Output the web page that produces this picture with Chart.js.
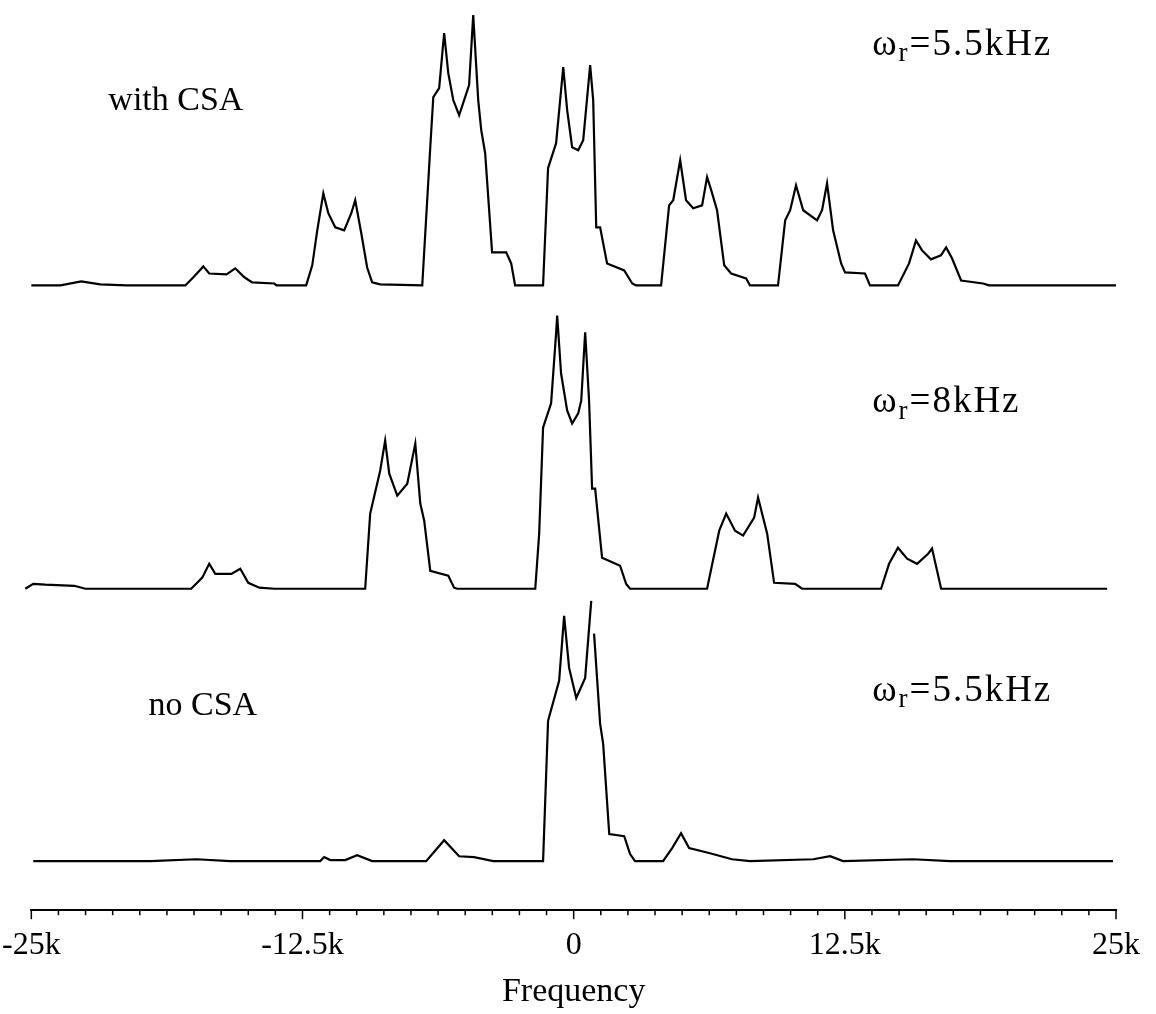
<!DOCTYPE html>
<html>
<head>
<meta charset="utf-8">
<title>MAS spectra</title>
<script src="https://cdn.jsdelivr.net/npm/chart.js@4/dist/chart.umd.min.js"></script>
<style>
    html, body { margin: 0; padding: 0; background: #fff; }
    #chart { display: block; }
</style>
</head>
<body>
<canvas id="chart" width="1156" height="1014"></canvas>
<script>
// frequency in kHz, intensity in arbitrary units (tallest top peak ~100)
var topFreq = [-25, -23.66, -22.7, -21.82, -20.62, -17.9, -17.53, -17.07, -16.8, -16.0, -15.6, -15.18, -14.82, -13.8, -13.7,
    -12.33, -12.05, -11.82, -11.54, -11.31, -10.99, -10.58, -10.25, -10.07, -9.79, -9.52, -9.29, -8.92,
    -6.98, -6.61, -6.47, -6.2, -5.97, -5.78, -5.55, -5.28, -4.82, -4.63, -4.4, -4.26, -4.08, -3.76, -3.11, -2.88, -2.7,
    -1.41, -1.18, -0.81, -0.48, -0.3, -0.07, 0.21, 0.44, 0.76, 0.9, 1.04, 1.22, 1.54, 2.33, 2.7, 2.88,
    4.03, 4.4, 4.59, 4.91, 5.18, 5.51, 5.92, 6.15, 6.34, 6.61, 6.94, 7.26, 7.95, 8.13,
    9.42, 9.75, 9.98, 10.25, 10.58, 11.22, 11.45, 11.68, 11.96, 12.33, 12.51, 13.43, 13.66,
    14.95, 15.46, 15.78, 16.06, 16.47, 16.93, 17.17, 17.44, 17.86, 18.87, 19.15, 25];
var topIntensity = [0, 0, 1.5, 0.4, 0, 0, 3.0, 7.0, 4.4, 4.1, 6.3, 3.0, 1.1, 0.7, 0,
    0, 7.4, 20.3, 33.9, 26.6, 21.4, 20.3, 26.6, 31.4, 19.2, 6.6, 1.1, 0.4,
    0, 50.9, 69.4, 72.7, 93.0, 78.2, 68.3, 62.7, 73.8, 99.6, 68.3, 57.2, 48.7, 12.2, 12.2, 8.1, 0,
    0, 43.2, 52.4, 80.4, 64.6, 50.9, 49.8, 53.5, 81.2, 68.3, 21.4, 21.4, 8.1, 5.5, 0.7, 0,
    0, 29.5, 31.4, 46.1, 31.4, 28.4, 29.5, 39.9, 35.1, 27.7, 7.4, 4.4, 2.6, 0,
    0, 24.0, 27.7, 36.9, 27.7, 24.0, 27.7, 37.6, 20.3, 8.1, 4.8, 4.4, 0,
    0, 8.1, 16.6, 12.9, 9.6, 11.1, 14.0, 10.0, 1.8, 0.7, 0, 0];

var midFreq = [-25.28, -24.91, -24.36, -23.02, -22.51, -17.63, -17.12, -16.8, -16.52, -15.78, -15.37, -15.0, -14.49, -13.8,
    -9.61, -9.38, -8.92, -8.69, -8.5, -8.13, -7.67, -7.3, -7.07, -6.89, -6.61, -5.78, -5.51, -5.37,
    -1.77, -1.59, -1.41, -1.04, -0.81, -0.76, -0.58, -0.3, -0.07, 0.21, 0.35, 0.53, 0.71, 0.85, 0.99, 1.31, 2.14, 2.42, 2.6,
    6.15, 6.71, 7.03, 7.44, 7.81, 8.32, 8.5, 8.92, 9.24, 10.21, 10.53,
    14.17, 14.54, 14.95, 15.37, 15.83, 16.34, 16.52, 16.94, 24.59];
var midIntensity = [0, 1.8, 1.5, 1.1, 0, 0, 4.1, 9.2, 5.5, 5.5, 7.4, 2.2, 0.4, 0,
    0, 27.7, 43.5, 54.6, 42.4, 34.3, 38.7, 53.5, 31.4, 25.1, 6.6, 4.8, 0.4, 0,
    0, 20.3, 59.4, 68.3, 94.1, 100.7, 79.3, 65.7, 60.9, 64.6, 69.4, 94.5, 69.4, 36.9, 36.9, 11.4, 8.5, 1.8, 0,
    0, 21.4, 27.7, 21.4, 19.6, 26.2, 33.6, 20.3, 2.2, 1.8, 0,
    0, 9.2, 15.1, 11.1, 9.2, 12.9, 14.8, 0, 0];

var lowFreq = [-24.91, -19.52, -17.4, -15.83, -11.68, -11.5, -11.22, -10.53, -9.98, -9.29,
    -6.8, -5.97, -5.28, -4.59, -3.71,
    -1.41, -1.18, -0.67, -0.44, -0.21, 0.12, 0.53, 0.81, 0.87, 0.94, 1.22, 1.36, 1.64, 2.33, 2.6, 2.83,
    4.12, 4.54, 4.95, 5.32, 6.24, 7.3, 8.13, 11.04, 11.82, 12.42, 15.64, 17.35, 24.86];
var lowIntensity = [0, 0, 0.7, 0, 0, 1.5, 0.4, 0.4, 2.2, 0,
    0, 7.7, 1.8, 1.5, 0,
    0, 51.7, 66.4, 90.4, 71.2, 60.1, 67.5, 95.9, null, 83.8, 50.6, 43.2, 10.0, 9.2, 2.6, 0,
    0, 4.8, 10.3, 4.8, 3.0, 0.7, 0, 0.7, 1.8, 0, 0.7, 0, 0];

var majorTicks = [-25, -12.5, 0, 12.5, 25];
var tickLabels = ['-25k', '-12.5k', '0', '12.5k', '25k'];

var toPoints = function (freq, intensity) {
    var pts = [];
    for (var i = 0; i < freq.length; i++) {
        pts.push({ x: freq[i], y: intensity[i] });
    }
    return pts;
};

var trace = function (freq, intensity, axis) {
    return {
        data: toPoints(freq, intensity),
        yAxisID: axis,
        borderColor: '#000',
        borderWidth: 2.2,
        pointRadius: 0,
        tension: 0,
        fill: false,
        spanGaps: false,
        clip: false
    };
};

var serif = '"Liberation Serif", "DejaVu Serif", serif';

// labels inside the plot, placed in data coordinates
var notes = [
    { text: 'with CSA', x: -21.45, y: 68, axis: 'yTop' },
    { text: 'no CSA', x: -19.6, y: 57, axis: 'yLow' },
    { omega: '=5.5kHz', x: 13.76, y: 88.6, axis: 'yTop' },
    { omega: '=8kHz', x: 13.76, y: 68.6, axis: 'yMid' },
    { omega: '=5.5kHz', x: 13.76, y: 62.7, axis: 'yLow' }
];

var notePlugin = {
    id: 'notes',
    afterDatasetsDraw: function (chart) {
        var ctx = chart.ctx;
        ctx.save();
        ctx.fillStyle = '#000';
        ctx.textBaseline = 'middle';
        ctx.textAlign = 'left';
        notes.forEach(function (n) {
            var px = chart.scales.x.getPixelForValue(n.x);
            var py = chart.scales[n.axis].getPixelForValue(n.y);
            if (n.text) {
                ctx.letterSpacing = '0px';
                ctx.font = '34px ' + serif;
                ctx.fillText(n.text, px, py);
                return;
            }
            ctx.letterSpacing = '2px';
            ctx.font = '37px ' + serif;
            ctx.fillText('\u03c9', px, py);
            px += ctx.measureText('\u03c9').width;
            ctx.font = '27px ' + serif;
            ctx.fillText('r', px, py + 9);
            px += ctx.measureText('r').width;
            ctx.font = '37px ' + serif;
            ctx.fillText(n.omega, px, py);
        });
        ctx.restore();
    }
};

var tickPlugin = {
    id: 'tickMarks',
    afterDraw: function (chart) {
        var scale = chart.scales.x;
        var ctx = chart.ctx;
        ctx.save();
        ctx.strokeStyle = '#000';
        ctx.lineWidth = 1.5;
        scale.ticks.forEach(function (t) {
            var px = scale.getPixelForValue(t.value);
            var len = majorTicks.indexOf(t.value) >= 0 ? 9 : 5;
            ctx.beginPath();
            ctx.moveTo(px, scale.top);
            ctx.lineTo(px, scale.top + len);
            ctx.stroke();
        });
        ctx.restore();
    }
};

var hiddenAxis = function (min, max) {
    return {
        type: 'linear',
        display: false,
        position: 'left',
        stack: 'spectra',
        stackWeight: 1,
        min: min,
        max: max
    };
};

new Chart(document.getElementById('chart').getContext('2d'), {
    type: 'line',
    data: {
        datasets: [
            trace(lowFreq, lowIntensity, 'yLow'),
            trace(midFreq, midIntensity, 'yMid'),
            trace(topFreq, topIntensity, 'yTop')
        ]
    },
    options: {
        responsive: false,
        animation: false,
        layout: { padding: { left: 31, right: 40, top: 6, bottom: 2 } },
        plugins: {
            legend: { display: false },
            tooltip: { enabled: false }
        },
        scales: {
            x: {
                type: 'linear',
                min: -25,
                max: 25,
                grid: { display: false, drawTicks: true, tickLength: 9 },
                border: { display: true, color: '#000', width: 2 },
                ticks: {
                    stepSize: 1.25,
                    autoSkip: false,
                    maxRotation: 0,
                    padding: 2,
                    color: '#000',
                    font: { family: serif, size: 32, lineHeight: 1.5 },
                    callback: function (value) {
                        var i = majorTicks.indexOf(value);
                        return i >= 0 ? tickLabels[i] : '';
                    }
                },
                title: {
                    display: true,
                    text: 'Frequency',
                    color: '#000',
                    font: { family: serif, size: 34 },
                    padding: { top: 0, bottom: 0 }
                }
            },
            // left-stacked axes are placed top-down in reverse order of definition
            yLow: hiddenAxis(-18.08, 92.97),
            yMid: hiddenAxis(-7.38, 103.67),
            yTop: hiddenAxis(-8.1, 102.95)
        }
    },
    plugins: [notePlugin, tickPlugin]
});
</script>
</body>
</html>
